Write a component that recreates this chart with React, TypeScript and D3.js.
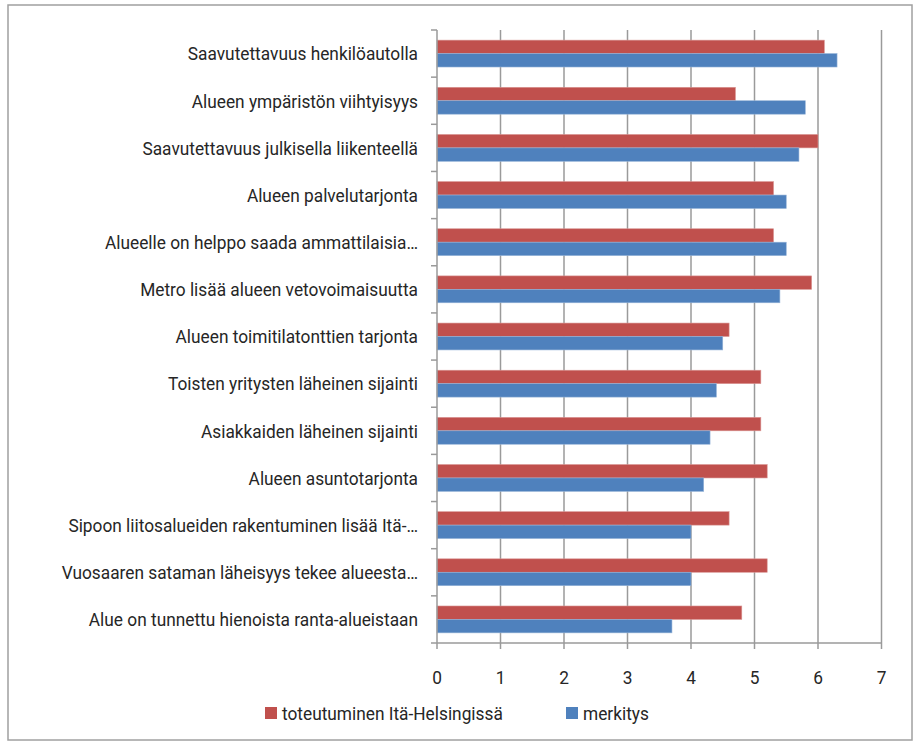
import React from "react";
import * as d3 from "d3";

const categories = [
  "Saavutettavuus henkilöautolla",
  "Alueen ympäristön viihtyisyys",
  "Saavutettavuus julkisella liikenteellä",
  "Alueen palvelutarjonta",
  "Alueelle on helppo saada ammattilaisia…",
  "Metro lisää alueen vetovoimaisuutta",
  "Alueen toimitilatonttien tarjonta",
  "Toisten yritysten läheinen sijainti",
  "Asiakkaiden läheinen sijainti",
  "Alueen asuntotarjonta",
  "Sipoon liitosalueiden rakentuminen lisää Itä-…",
  "Vuosaaren sataman läheisyys tekee alueesta…",
  "Alue on tunnettu hienoista ranta-alueistaan",
];

const toteutuminen = [6.1, 4.7, 6.0, 5.3, 5.3, 5.9, 4.6, 5.1, 5.1, 5.2, 4.6, 5.2, 4.8];
const merkitys = [6.3, 5.8, 5.7, 5.5, 5.5, 5.4, 4.5, 4.4, 4.3, 4.2, 4.0, 4.0, 3.7];

const seriesNames = ["toteutuminen Itä-Helsingissä", "merkitys"];
const seriesColors = ["#C0504D", "#4F81BD"];
const seriesStrokes = ["#D99694", "#95B3D7"];
const xTicks = [0, 1, 2, 3, 4, 5, 6, 7];

const W = 919;
const H = 743;
const FONT = "Roboto, 'Liberation Sans', sans-serif";
const FS = 19;
const SX = 0.91; // horizontal condensing of the label font
const TEXT = "#262626";
const GRID = "#9a9a9a";

function Label(props: { x: number; y: number; anchor: string; children: React.ReactNode }) {
  return (
    <g transform={`translate(${props.x},${props.y}) scale(${SX},1)`}>
      <text x={0} y={0} textAnchor={props.anchor} dominantBaseline="central" fontSize={FS} fill={TEXT}>
        {props.children}
      </text>
    </g>
  );
}

export default function App() {
  const left = 437;
  const right = 881.5;
  const top = 30;
  const bottom = 643;

  const x = d3.scaleLinear().domain([0, 7]).range([left, right]);
  const y = d3.scaleBand<string>().domain(categories).range([top, bottom]).paddingInner(0.43).paddingOuter(0.215);
  const inner = d3.scaleBand<number>().domain([0, 1]).range([0, y.bandwidth()]);
  const step = y.step();

  const series = [toteutuminen, merkitys];

  return (
    <svg
      width={W}
      height={H}
      style={{ position: "absolute", left: 0, top: 0, display: "block", background: "#fff" }}
      fontFamily={FONT}
    >
      <rect x={8} y={5} width={904} height={735} fill="#fff" stroke="#a0a0a0" strokeWidth={1.5} />

      {/* vertical gridlines */}
      {xTicks.slice(1).map((t) => (
        <line key={"g" + t} x1={x(t)} x2={x(t)} y1={top} y2={bottom} stroke={GRID} strokeWidth={1.5} />
      ))}

      {/* bars */}
      {categories.map((c, i) =>
        series.map((s, k) => (
          <rect
            key={c + k}
            x={x(0)}
            y={(y(c) as number) + (inner(k) as number)}
            width={x(s[i]) - x(0)}
            height={inner.bandwidth()}
            fill={seriesColors[k]}
            stroke={seriesStrokes[k]}
            strokeWidth={0.6}
          />
        ))
      )}

      {/* left axis */}
      <line x1={left} x2={left} y1={top} y2={bottom} stroke={GRID} strokeWidth={1.5} />
      {d3.range(categories.length + 1).map((k) => (
        <line key={"yt" + k} x1={left - 6} x2={left} y1={top + k * step} y2={top + k * step} stroke={GRID} strokeWidth={1.5} />
      ))}

      {/* bottom axis */}
      <line x1={left} x2={right} y1={bottom} y2={bottom} stroke={GRID} strokeWidth={1.5} />
      {xTicks.map((t) => (
        <g key={"xt" + t}>
          <line x1={x(t)} x2={x(t)} y1={bottom} y2={bottom + 6} stroke={GRID} strokeWidth={1.5} />
          <Label x={x(t)} y={677} anchor="middle">
            {t}
          </Label>
        </g>
      ))}

      {/* category labels */}
      {categories.map((c) => (
        <Label key={"l" + c} x={left - 19} y={(y(c) as number) + y.bandwidth() / 2} anchor="end">
          {c}
        </Label>
      ))}

      {/* legend */}
      {seriesNames.map((n, k) => {
        const lx = k === 0 ? 265 : 566;
        return (
          <g key={"lg" + k}>
            <rect x={lx} y={707} width={12} height={12} fill={seriesColors[k]} />
            <Label x={lx + 17} y={713} anchor="start">
              {n}
            </Label>
          </g>
        );
      })}
    </svg>
  );
}
